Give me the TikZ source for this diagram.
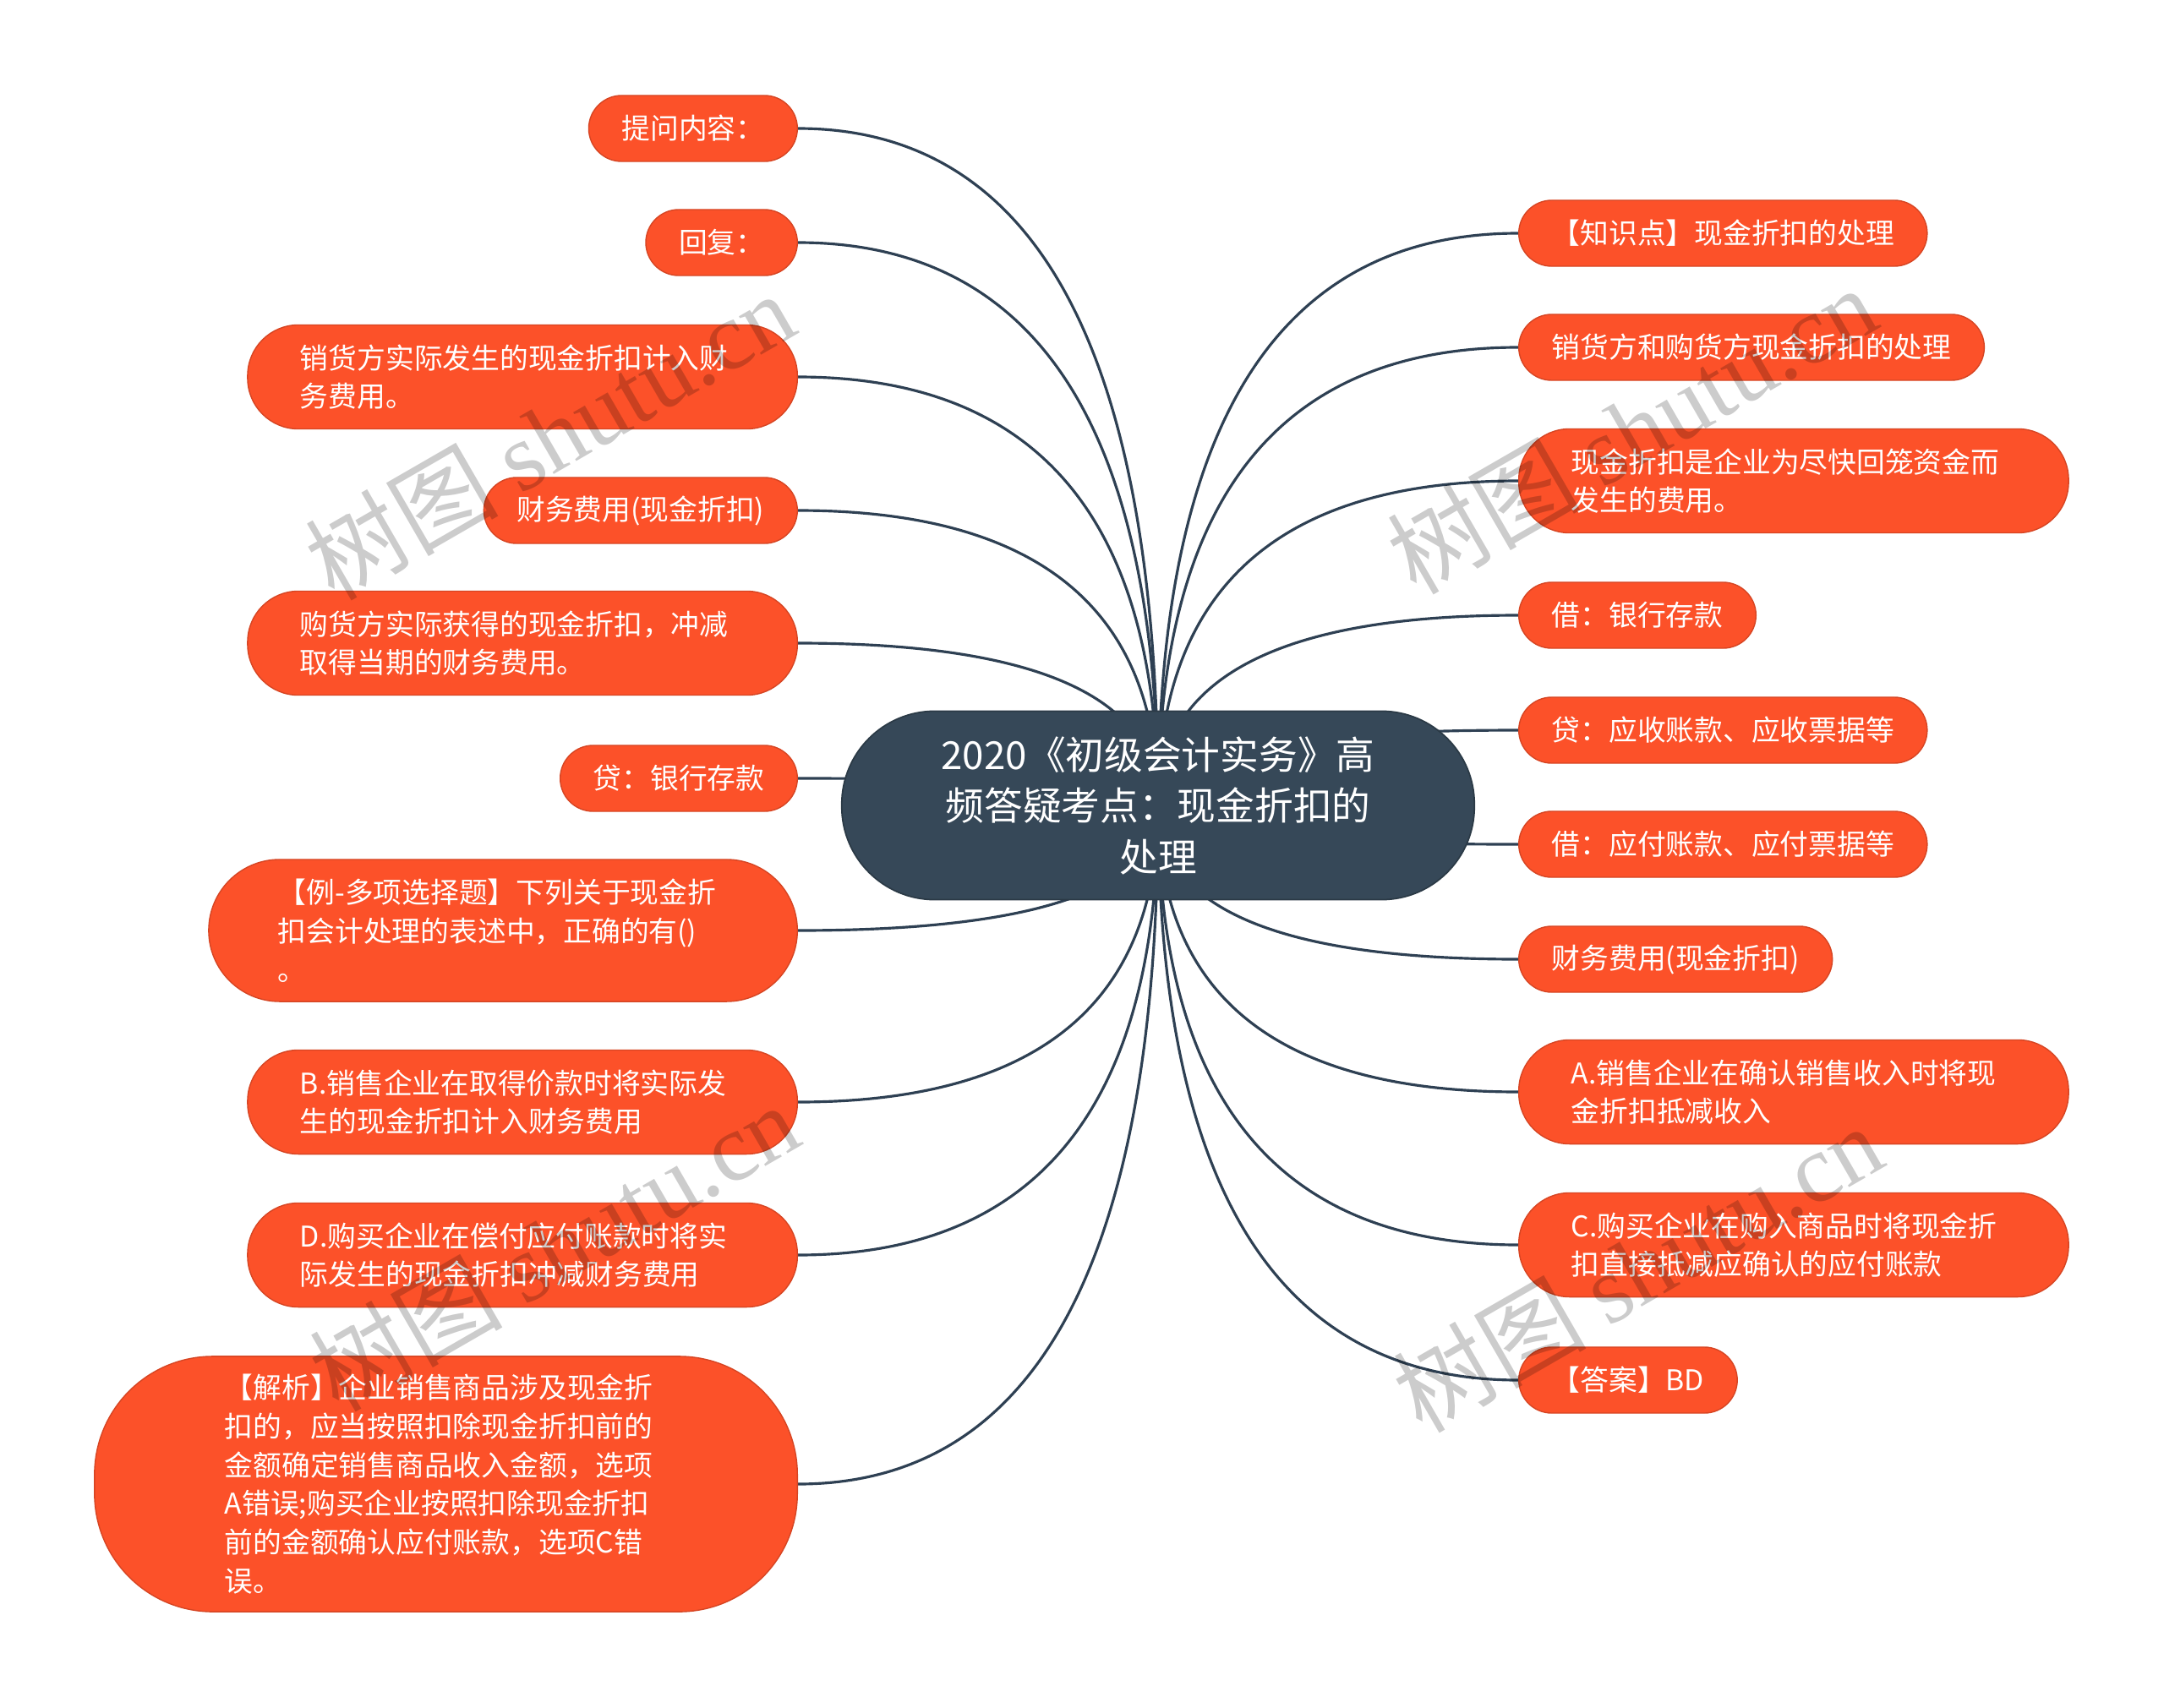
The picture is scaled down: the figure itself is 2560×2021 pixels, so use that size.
\documentclass[tikz,border=0pt]{standalone}
\usepackage{fontspec}
\setmainfont{Noto Sans CJK SC}
\newfontfamily\wmserif{Liberation Serif}
\usetikzlibrary{calc,backgrounds}
\definecolor{leaforange}{RGB}{252,81,41}
\definecolor{rootblue}{RGB}{54,72,88}
\definecolor{linecol}{RGB}{46,64,83}
\begin{document}
\begin{tikzpicture}[x=0.01cm,y=-0.01cm,
  leaf/.style={fill=leaforange, draw=leaforange!85!black, line width=0.4pt, text=white,
    font=\fontsize{9.6}{13}\selectfont, align=left, inner ysep=0pt},
  one/.style={leaf, inner xsep=0.39cm, minimum height=0.78cm, rounded corners=0.39cm},
  two/.style={leaf, inner xsep=0.62cm, text width=5.26cm, minimum height=1.23cm, rounded corners=0.6cm},
  three/.style={leaf, inner xsep=0.82cm, text width=5.32cm, minimum height=1.68cm, rounded corners=0.84cm},
  six/.style={leaf, inner xsep=1.54cm, text width=5.23cm, minimum height=3.02cm, rounded corners=1.4cm},
  rootbox/.style={fill=rootblue, draw=rootblue!80!black, line width=0.5pt, text=white,
    font=\fontsize{13}{17.2}\selectfont, align=center, text width=5.6cm,
    minimum width=7.48cm, minimum height=2.23cm, rounded corners=1.1cm, inner sep=0pt},
  conn/.style={draw=linecol, line width=0.9pt},
  wm/.style={rotate=30, text=black, opacity=0.2, font=\fontsize{32.5}{33}\selectfont}]
\useasboundingbox (0,0) rectangle (2560,2021);

\node[rootbox] (root) at (1370,953) {2020《初级会计实务》高\\频答疑考点：现金折扣的\\处理};

% left
\node[one,anchor=east] (L1) at (944,152) {提问内容：};
\node[one,anchor=east] (L2) at (944,287) {回复：};
\node[two,anchor=east] (L3) at (944,446) {销货方实际发生的现金折扣计入财\\务费用。};
\node[one,anchor=east] (L4) at (944,604) {财务费用(现金折扣)};
\node[two,anchor=east] (L5) at (944,761) {购货方实际获得的现金折扣，冲减\\取得当期的财务费用。};
\node[one,anchor=east] (L6) at (944,921) {贷：银行存款};
\node[three,anchor=east] (L7) at (944,1101) {【例-多项选择题】下列关于现金折\\扣会计处理的表述中，正确的有()\\。};
\node[two,anchor=east] (L8) at (944,1304) {B.销售企业在取得价款时将实际发\\生的现金折扣计入财务费用};
\node[two,anchor=east] (L9) at (944,1485) {D.购买企业在偿付应付账款时将实\\际发生的现金折扣冲减财务费用};
\node[six,anchor=east] (L10) at (944,1756) {【解析】企业销售商品涉及现金折\\扣的，应当按照扣除现金折扣前的\\金额确定销售商品收入金额，选项\\A错误;购买企业按照扣除现金折扣\\前的金额确认应付账款，选项C错\\误。};

% right
\node[one,anchor=west] (R1) at (1796,276) {【知识点】现金折扣的处理};
\node[one,anchor=west] (R2) at (1796,411) {销货方和购货方现金折扣的处理};
\node[two,anchor=west] (R3) at (1796,569) {现金折扣是企业为尽快回笼资金而\\发生的费用。};
\node[one,anchor=west] (R4) at (1796,728) {借：银行存款};
\node[one,anchor=west] (R5) at (1796,864) {贷：应收账款、应收票据等};
\node[one,anchor=west] (R6) at (1796,999) {借：应付账款、应付票据等};
\node[one,anchor=west] (R7) at (1796,1135) {财务费用(现金折扣)};
\node[two,anchor=west] (R8) at (1796,1292) {A.销售企业在确认销售收入时将现\\金折扣抵减收入};
\node[two,anchor=west] (R9) at (1796,1473) {C.购买企业在购入商品时将现金折\\扣直接抵减应确认的应付账款};
\node[one,anchor=west] (R10) at (1796,1633) {【答案】BD};

\begin{scope}[on background layer]
\foreach \n in {L1,L2,L3,L4,L5,L6,L7,L8,L9,L10} {
  \draw[conn] (root.center) .. controls ($(root.center)!0.6667!(root.center |- \n.east)$)
    and ($(\n.east)!0.6667!(root.center |- \n.east)$) .. (\n.east);
}
\foreach \n in {R1,R2,R3,R4,R5,R6,R7,R8,R9,R10} {
  \draw[conn] (root.center) .. controls ($(root.center)!0.6667!(root.center |- \n.west)$)
    and ($(\n.west)!0.6667!(root.center |- \n.west)$) .. (\n.west);
}
\end{scope}

% watermarks
\node[wm] (wm1) at (650,515) {树图 {\wmserif shutu.cn}};
\node[wm] (wm2) at (1930,508) {树图 {\wmserif shutu.cn}};
\node[wm] (wm3) at (655,1475) {树图 {\wmserif shutu.cn}};
\node[wm] (wm4) at (1937,1500) {树图 {\wmserif shutu.cn}};
\end{tikzpicture}
\end{document}
